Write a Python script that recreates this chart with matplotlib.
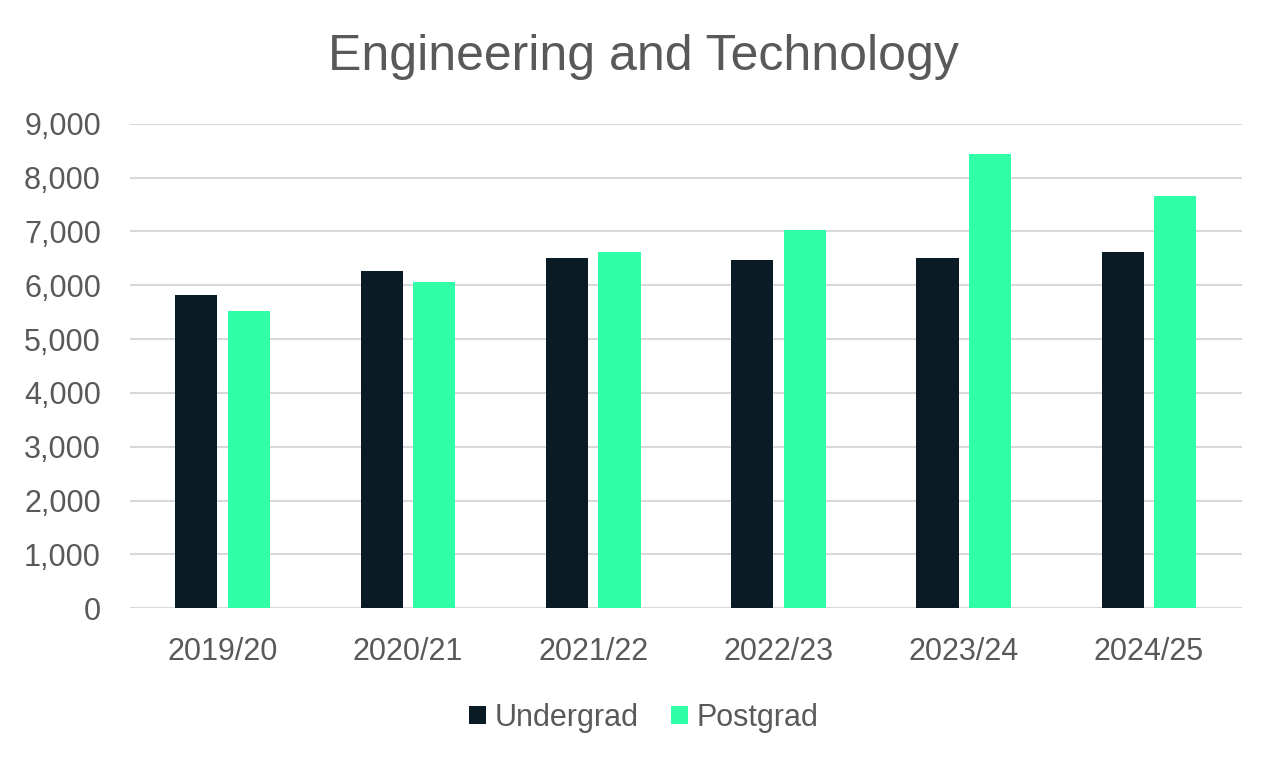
import numpy as np
import matplotlib.pyplot as plt

plt.rcParams['font.family'] = ['Liberation Sans', 'DejaVu Sans']

# data
years = ["2019/20", "2020/21", "2021/22", "2022/23", "2023/24", "2024/25"]
undergrad = [5810, 6260, 6510, 6460, 6510, 6610]
postgrad = [5520, 6060, 6610, 7020, 8430, 7660]

text_col = "#595959"
ug_col = "#0a1b26"
pg_col = "#30ffa8"

fig = plt.figure(figsize=(12.8, 7.64), dpi=100)
ax = fig.add_axes([0.1016, 0.204, 0.8684, 0.634])

x = np.arange(len(years))
w = 0.228
off = 0.142

ax.bar(x - off, undergrad, w, color=ug_col, label="Undergrad", zorder=3)
ax.bar(x + off, postgrad, w, color=pg_col, label="Postgrad", zorder=3)

ax.set_xlim(-0.5, len(years) - 0.5)
ax.set_ylim(0, 9000)
ax.set_yticks(np.arange(0, 9001, 1000))
ax.set_yticklabels([f"{v:,}" for v in range(0, 9001, 1000)])
ax.set_xticks(x)
ax.set_xticklabels(years)

ax.grid(axis="y", color="#d9d9d9", linewidth=1.5, zorder=0)
for s in ax.spines.values():
    s.set_visible(False)
ax.tick_params(length=0, labelsize=22, colors=text_col)
ax.tick_params(axis="x", pad=21)
ax.tick_params(axis="y", pad=21)

fig.text(0.503, 0.926, "Engineering and Technology", fontsize=36,
         color=text_col, ha="center", va="center")

leg = fig.legend(loc="center", bbox_to_anchor=(0.503, 1 - 718 / 764), ncol=2,
                 frameon=False, fontsize=22, handlelength=0.55, handleheight=0.55,
                 handletextpad=0.3, columnspacing=1.05)
for t in leg.get_texts():
    t.set_color(text_col)

fig.savefig("out.png", dpi=100)
